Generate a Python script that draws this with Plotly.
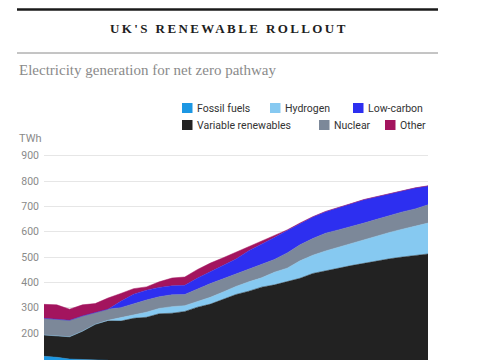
import plotly.graph_objects as go

# ---- data (TWh) ----
years = list(range(2020, 2051))
fossil_fuels = [108, 104, 97, 96, 96, 92, 60, 45, 35, 28, 22, 18, 15, 12, 10, 8,
                7, 6, 5, 4, 4, 3, 3, 2, 2, 2, 1, 1, 1, 1, 1]
variable_renewables = [84, 84, 88, 111, 138, 156, 187, 213, 227, 248, 256, 267, 287, 302, 323, 344,
                       358, 375, 385, 399, 412, 432, 443, 454, 464, 473, 484, 492, 499, 505, 511]
hydrogen = [0, 0, 0, 0, 0, 2, 13, 14, 20, 21, 26, 23, 23, 27, 29, 32,
            37, 37, 50, 53, 69, 72, 78, 83, 87, 93, 98, 104, 110, 116, 122]
nuclear = [66, 67, 65, 60, 46, 44, 40, 44, 48, 46, 47, 44, 50, 54, 52, 49,
           50, 53, 50, 60, 63, 66, 70, 68, 66, 66, 66, 68, 68, 68, 72]
low_carbon = [0, 0, 0, 0, 0, 0, 25, 37, 39, 37, 35, 36, 42, 46, 54, 59,
              73, 79, 87, 89, 85, 85, 85, 89, 91, 92, 89, 84, 82, 82, 74]
other = [55, 56, 44, 44, 36, 44, 31, 22, 13, 22, 31, 33, 34, 35, 29, 27,
         16, 12, 5, 2, 1, 1, 1, 1, 1, 1, 1, 1, 1, 1, 1]

series_names = ["Fossil fuels", "Variable renewables", "Hydrogen", "Nuclear", "Low-carbon", "Other"]
series_colors = ["#1c97e3", "#222222", "#86c9f1", "#7c8899", "#2d2ff0", "#a3145e"]
series_values = [fossil_fuels, variable_renewables, hydrogen, nuclear, low_carbon, other]

y_ticks = [100, 200, 300, 400, 500, 600, 700, 800, 900]

# The page body has an 8px margin, so the figure is drawn 8px in from the window corner.
OFF = 8
W, H = 485 - OFF, 360 - OFF
L_PX, R_PX, T_PX = 44, 428, 150      # plot edges in window pixels
Y_MIN, Y_MAX = 93.3, 922.5

def px_x(x):
    return (x - L_PX) / (R_PX - L_PX)

def px_y(y):
    return (360 - y) / (360 - T_PX)

fig = go.Figure()
for name, vals, col in zip(series_names, series_values, series_colors):
    fig.add_trace(go.Scatter(
        x=years, y=vals, name=name, mode="lines", stackgroup="one",
        line=dict(width=0.5, color=col), fillcolor=col, hoverinfo="skip",
    ))

sans = "Roboto, Noto Sans, sans-serif"
serif = "Liberation Serif, Georgia, DejaVu Serif, serif"

shapes = [
    dict(type="line", xref="paper", yref="paper", x0=px_x(17), x1=px_x(438),
         y0=px_y(9.5), y1=px_y(9.5), line=dict(color="#1a1a1a", width=2.5)),
    dict(type="line", xref="paper", yref="paper", x0=px_x(17), x1=px_x(438),
         y0=px_y(53), y1=px_y(53), line=dict(color="#8a8a8a", width=1)),
]
annotations = [
    dict(text="<b><span style='letter-spacing:2.4px'>UK'S RENEWABLE ROLLOUT</span></b>",
         xref="paper", yref="paper", x=px_x(229), y=px_y(28), xanchor="center", yanchor="middle",
         showarrow=False, font=dict(family=serif, size=13, color="#1e1e1e")),
    dict(text="Electricity generation for net zero pathway",
         xref="paper", yref="paper", x=px_x(17), y=px_y(70), xanchor="left", yanchor="middle",
         showarrow=False, font=dict(family=serif, size=15, color="#8a8a8a")),
    dict(text="TWh", xref="paper", yref="paper", x=px_x(17), y=px_y(138),
         xanchor="left", yanchor="middle", showarrow=False,
         font=dict(family=sans, size=11, color="#8a8a8a")),
]

legend_items = [
    ("Fossil fuels", 182, 108), ("Hydrogen", 270, 108), ("Low-carbon", 353, 108),
    ("Variable renewables", 182, 125), ("Nuclear", 319, 125), ("Other", 385, 125),
]
color_of = dict(zip(series_names, series_colors))
for name, x0, yc in legend_items:
    shapes.append(dict(type="rect", xref="paper", yref="paper",
                       x0=px_x(x0), x1=px_x(x0 + 10.5), y0=px_y(yc + 5), y1=px_y(yc - 5),
                       fillcolor=color_of[name], line=dict(width=0)))
    annotations.append(dict(text=name, xref="paper", yref="paper", x=px_x(x0 + 13), y=px_y(yc),
                            xanchor="left", yanchor="middle", showarrow=False,
                            font=dict(family=sans, size=10.5, color="#333333")))

fig.update_layout(
    width=W, height=H, autosize=False,
    margin=dict(l=L_PX - OFF, r=485 - R_PX, t=T_PX - OFF, b=0, pad=0),
    paper_bgcolor="white", plot_bgcolor="white",
    showlegend=False,
    shapes=shapes, annotations=annotations,
    xaxis=dict(range=[2020, 2050], showgrid=False, showticklabels=False, zeroline=False,
               showline=False, ticks="", automargin=False),
    yaxis=dict(range=[Y_MIN, Y_MAX], tickvals=y_ticks, ticktext=[str(v) for v in y_ticks],
               showgrid=True, gridcolor="#e6e6e6", gridwidth=1, zeroline=False, showline=False,
               ticks="", ticklabelstandoff=4, automargin=False,
               tickfont=dict(family=sans, size=10.5, color="#8a8a8a")),
)

fig.write_html("out.html")
